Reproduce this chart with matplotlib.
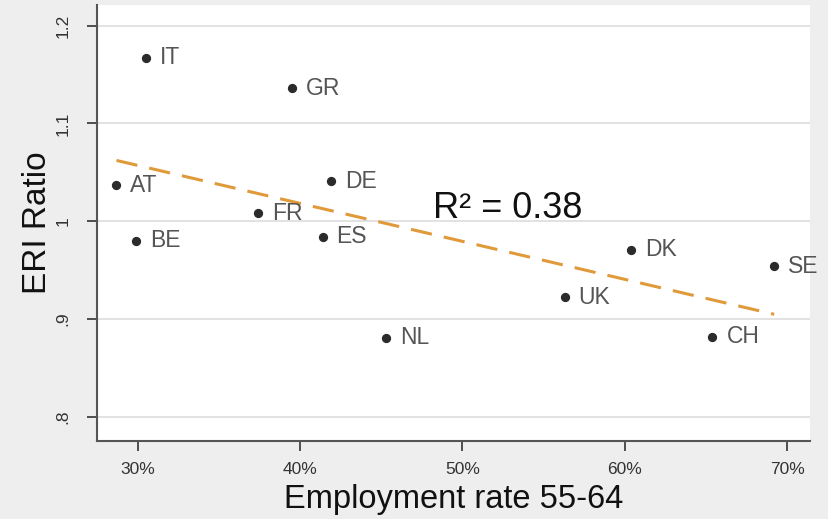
import matplotlib.pyplot as plt
import numpy as np
from matplotlib.ticker import FixedLocator

plt.rcParams['font.family'] = ['Liberation Sans', 'DejaVu Sans']

countries = ["IT", "GR", "AT", "DE", "FR", "BE", "ES", "NL", "UK", "DK", "SE", "CH"]
emp_rate = [30.5, 39.5, 28.7, 41.9, 37.4, 29.9, 41.4, 45.3, 56.3, 60.4, 69.2, 65.4]
eri_ratio = [1.167, 1.136, 1.037, 1.041, 1.008, 0.980, 0.984, 0.881, 0.922, 0.971, 0.954, 0.882]

x_ticks = [30, 40, 50, 60, 70]
x_ticklabels = ["30%", "40%", "50%", "60%", "70%"]
y_ticks = [0.8, 0.9, 1.0, 1.1, 1.2]
y_ticklabels = [".8", ".9", "1", "1.1", "1.2"]

x = np.array(emp_rate)
y = np.array(eri_ratio)

fig = plt.figure(figsize=(8.29, 5.19), dpi=100, facecolor="#eeeeee")
ax = fig.add_axes([0.117, 0.150, 0.860, 0.840])
ax.set_facecolor("white")

# linear fit
slope, intercept = np.polyfit(x, y, 1)
xf = np.array([x.min(), x.max()])
ax.plot(xf, slope * xf + intercept, color="#e09a3a", lw=2.2, ls=(0, (7, 4)), zorder=2)

ax.scatter(x, y, s=32, color="#2b2b2b", zorder=3)
for c, xi, yi in zip(countries, x, y):
    ax.annotate(c, (xi, yi), xytext=(10, 0), textcoords="offset points",
                va="center", ha="left", fontsize=16.5, color="#555555", zorder=4)

ax.text(48.2, 1.003, "R² = 0.38", fontsize=26, color="#111111", ha="left", va="baseline")

ax.set_xlim(27.5, 71.4)
ax.set_ylim(0.775, 1.221)
ax.xaxis.set_major_locator(FixedLocator(x_ticks))
ax.set_xticklabels(x_ticklabels)
ax.yaxis.set_major_locator(FixedLocator(y_ticks))
ax.set_yticklabels(y_ticklabels, rotation=90, va="center")
ax.tick_params(axis="both", labelsize=12.5, colors="#333333", length=7, width=1.2)
ax.tick_params(axis="x", pad=8)
ax.tick_params(axis="y", pad=12)

ax.grid(axis="y", color="#dddddd", lw=1.2)
ax.set_axisbelow(True)
for s in ["top", "right"]:
    ax.spines[s].set_visible(False)
for s in ["left", "bottom"]:
    ax.spines[s].set_color("#555555")
    ax.spines[s].set_linewidth(1.5)

ax.set_xlabel("Employment rate 55-64", fontsize=23.5, color="#111111", labelpad=5)
ax.set_ylabel("ERI Ratio", fontsize=24, color="#111111", labelpad=2)

fig.savefig("out.png", dpi=100, facecolor=fig.get_facecolor())
